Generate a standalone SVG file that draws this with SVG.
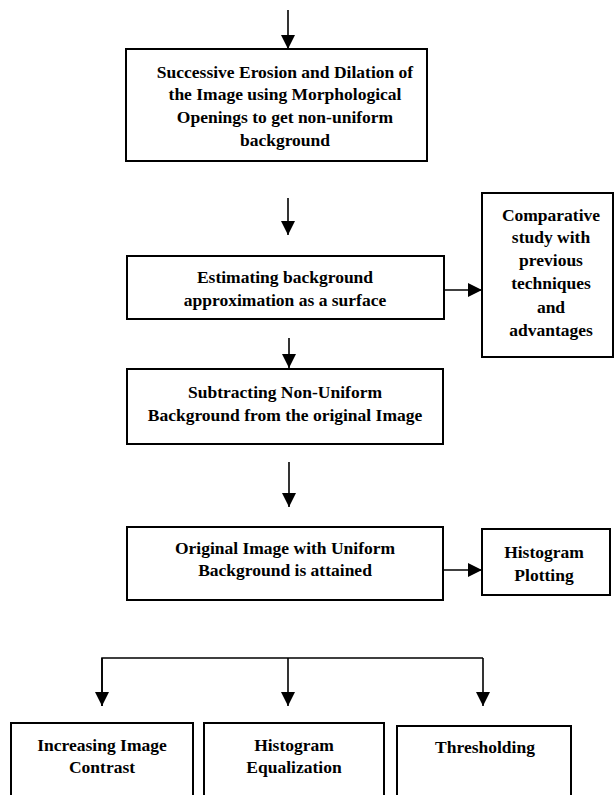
<svg xmlns="http://www.w3.org/2000/svg" width="615" height="795" viewBox="0 0 615 795">
<defs>
<marker id="ah" markerUnits="userSpaceOnUse" markerWidth="14" markerHeight="15" refX="14" refY="7" orient="auto">
<path d="M0,0 L14,7 L0,14 Z" fill="#000"/>
</marker>
<style>
.box{fill:#fff;stroke:#000;stroke-width:2}
.t{font-family:"Liberation Serif","Times New Roman",serif;font-weight:bold;font-size:17.5px;text-anchor:middle;fill:#000}
.c{stroke:#000;stroke-width:1.6;fill:none}
</style>
</defs>
<rect width="615" height="795" fill="#fff"/>
<g id="connectors">
<line class="c" x1="288" y1="10" x2="288" y2="49" marker-end="url(#ah)"/>
<line class="c" x1="288" y1="198" x2="288" y2="235" marker-end="url(#ah)"/>
<line class="c" x1="444" y1="290" x2="482" y2="290" marker-end="url(#ah)"/>
<line class="c" x1="289" y1="338" x2="289" y2="368" marker-end="url(#ah)"/>
<line class="c" x1="289" y1="462" x2="289" y2="507" marker-end="url(#ah)"/>
<line class="c" x1="443" y1="570" x2="482" y2="570" marker-end="url(#ah)"/>
<polyline class="c" points="102,706 102,658 483,658"/>
<line class="c" x1="102" y1="658" x2="102" y2="706" marker-end="url(#ah)"/>
<line class="c" x1="288" y1="658" x2="288" y2="706" marker-end="url(#ah)"/>
<line class="c" x1="483" y1="658" x2="483" y2="706" marker-end="url(#ah)"/>
</g>
<g id="erosion">
<rect class="box" x="126" y="49" width="301" height="112"/>
<text class="t" x="285" y="78">Successive Erosion and Dilation of</text>
<text class="t" x="285" y="100">the Image using Morphological</text>
<text class="t" x="285" y="123">Openings to get non-uniform</text>
<text class="t" x="285" y="146">background</text>
</g>
<g id="estimating">
<rect class="box" x="127" y="256" width="317" height="63"/>
<text class="t" x="285" y="283">Estimating background</text>
<text class="t" x="285" y="306">approximation as a surface</text>
</g>
<g id="comparative">
<rect class="box" x="482" y="193" width="131" height="164"/>
<text class="t" x="551" y="221">Comparative</text>
<text class="t" x="551" y="243">study with</text>
<text class="t" x="551" y="266">previous</text>
<text class="t" x="551" y="289">techniques</text>
<text class="t" x="551" y="313">and</text>
<text class="t" x="551" y="336">advantages</text>
</g>
<g id="subtracting">
<rect class="box" x="127" y="369" width="316" height="75"/>
<text class="t" x="285" y="398">Subtracting Non-Uniform</text>
<text class="t" x="285" y="421">Background from the original Image</text>
</g>
<g id="original">
<rect class="box" x="127" y="527" width="316" height="73"/>
<text class="t" x="285" y="554">Original Image with Uniform</text>
<text class="t" x="285" y="576">Background is attained</text>
</g>
<g id="histogram-plotting">
<rect class="box" x="482" y="529" width="128" height="66"/>
<text class="t" x="544" y="558">Histogram</text>
<text class="t" x="544" y="581">Plotting</text>
</g>
<g id="contrast">
<rect class="box" x="11" y="723" width="182" height="90"/>
<text class="t" x="102" y="751">Increasing Image</text>
<text class="t" x="102" y="773">Contrast</text>
</g>
<g id="equalization">
<rect class="box" x="204" y="723" width="180" height="90"/>
<text class="t" x="294" y="751">Histogram</text>
<text class="t" x="294" y="773">Equalization</text>
</g>
<g id="thresholding">
<rect class="box" x="397" y="726" width="174" height="90"/>
<text class="t" x="485" y="753">Thresholding</text>
</g>
</svg>
